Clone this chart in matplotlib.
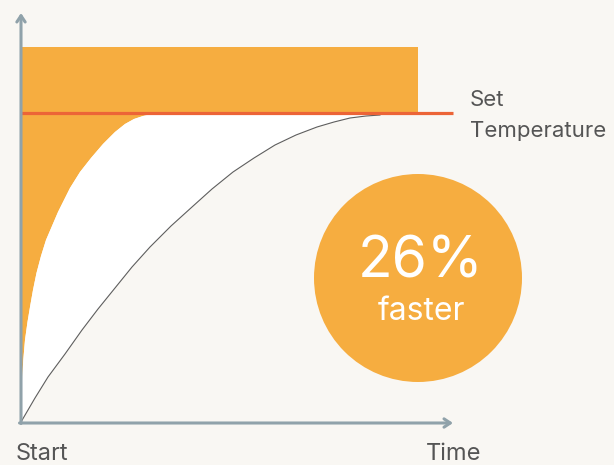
import matplotlib.pyplot as plt
import matplotlib.patches as mp
import numpy as np

# values (1 unit ~ 1 px, origin at the axes corner)
fast_t = [0, 0.4, 1, 2.3, 4, 6.5, 9, 12, 15.5, 20, 25, 31, 37, 43, 49, 59,
          70, 82, 94, 104, 113, 122, 131]
fast_T = [0, 20, 42, 62, 82, 100, 115, 132, 149, 166, 182, 196, 210, 222, 234,
          250, 264, 278, 290, 298, 303, 306, 308]
slow_t = [0, 14, 27, 44, 61, 77, 94, 111, 129, 150, 171, 191, 212, 233, 254,
          275, 296, 313, 329, 345, 359]
slow_T = [0, 24, 45, 68, 92, 113, 134, 155, 175, 196, 215, 233, 250, 264, 277,
          287, 295, 300, 304, 306, 307]
set_temp = 309
heater_top = 375
heater_end = 397
t_max = 432
T_max = 409
label_pct = '26%'
label_sub = 'faster'

bg = '#f9f7f3'
orange = '#f6ad40'
red = '#ec6437'
grey = '#90a2aa'
txt = '#555555'

plt.rcParams['font.family'] = ['Inter', 'DejaVu Sans']

fig = plt.figure(figsize=(6.14, 4.65), dpi=100, facecolor=bg)
ax = fig.add_axes([0, 0, 1, 1])
ax.set_facecolor(bg)
ax.set_xlim(-21, 593)
ax.set_ylim(-43, 422)
ax.axis('off')

# heater bar above the set line
ax.add_patch(mp.Rectangle((0, set_temp), heater_end, heater_top - set_temp,
                          color=orange, lw=0, zorder=1))
# orange left of fast curve
fx = np.r_[fast_t, fast_t[-1], 0]
fy = np.r_[fast_T, set_temp, set_temp]
ax.fill(fx, fy, color=orange, lw=0, zorder=1)

# white gap between fast and slow curve
wx = np.r_[fast_t, fast_t[-1], slow_t[-1], slow_t[::-1]]
wy = np.r_[fast_T, set_temp, set_temp, slow_T[::-1]]
ax.fill(wx, wy, color='white', lw=0, zorder=2)

ax.plot(slow_t, slow_T, color='#5e5e5e', lw=0.8, zorder=3)
ax.plot([0, t_max], [set_temp, set_temp], color=red, lw=2.3, zorder=4,
        solid_capstyle='butt')

# axes arrows
arrow = dict(arrowstyle='->,head_length=0.45,head_width=0.3', color=grey,
             lw=2.2, shrinkA=0, shrinkB=0)
ax.annotate('', xy=(0, T_max), xytext=(0, -1.5), arrowprops=arrow, zorder=5)
ax.annotate('', xy=(t_max, -1), xytext=(-1.5, -1), arrowprops=arrow, zorder=5)

ax.text(-5, -38, 'Start', fontsize=17, color=txt, ha='left', va='baseline')
ax.text(405, -38, 'Time', fontsize=17, color=txt, ha='left', va='baseline')
ax.text(449, 316, 'Set', fontsize=16, color=txt, ha='left', va='baseline')
ax.text(449, 285, 'Temperature', fontsize=16, color=txt, ha='left', va='baseline')

# badge
ax.add_patch(mp.Circle((397, 144), 104, color=orange, lw=0, zorder=6))
ax.text(400, 145, label_pct, fontsize=41, color='white', ha='center',
        va='baseline', zorder=7)
ax.text(400, 102, label_sub, fontsize=23, color='white', ha='center',
        va='baseline', zorder=7)

fig.savefig('out.png', dpi=100, facecolor=bg)
